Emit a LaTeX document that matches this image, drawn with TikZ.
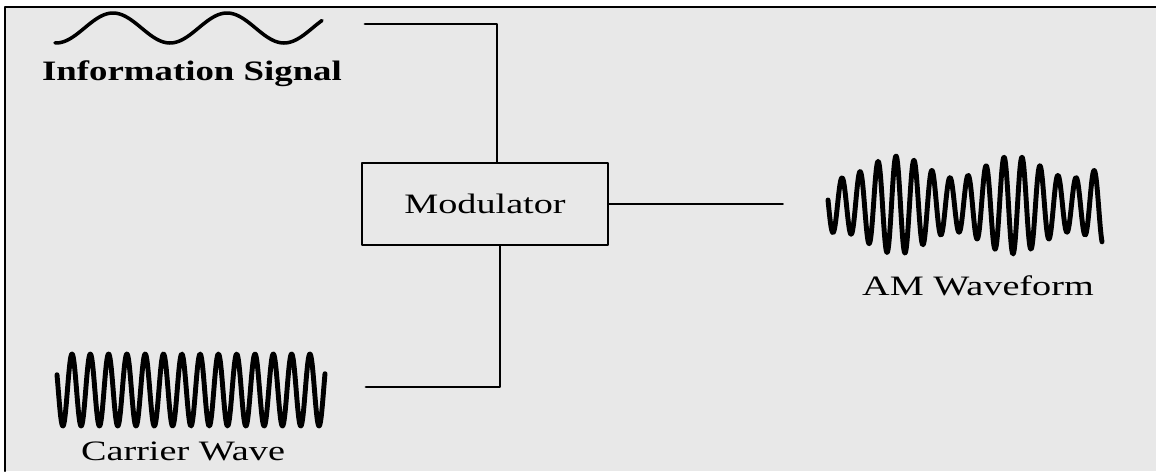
\documentclass[tikz,border=0pt]{standalone}
\usepackage{fontspec}
\setmainfont{Liberation Serif}
\usepackage{graphicx}
\usepackage{xcolor}
\usetikzlibrary{calc}
\definecolor{bggray}{RGB}{232,232,232}
\newcommand{\widetext}[1]{\scalebox{1.36}[1]{#1}}

\begin{document}
\begin{tikzpicture}[x=0.02cm, y=-0.02cm, line join=round, line cap=round,
    link/.style={line width=1.6pt},
    wave/.style={line width=2.8pt},
    label/.style={anchor=base, inner sep=0pt, font=\fontsize{16}{19}\selectfont}]
  % Page and frame (only top and left edges are drawn)
  \useasboundingbox (0,0) rectangle (1156,471);
  \fill[white] (0,0) rectangle (1156,471);
  \fill[bggray] (5,7) rectangle (1156,471);
  \draw[line width=1.2pt] (5,471) -- (5,7) -- (1156,7);

  % Modulator block
  \node[draw, line width=1.6pt, minimum width=4.92cm, minimum height=1.64cm,
        inner sep=0pt, font=\fontsize{16}{19}\selectfont] (mod) at (485,204)
        {\widetext{Modulator}};

  % Information signal (slow sine)
  \draw[line width=2pt] plot[domain=55:322, samples=120, smooth]
    (\x, {28 - 15*cos(2*pi*(\x-113)/114 r)});
  \node[label, font=\bfseries\fontsize{16}{19}\selectfont] (info) at (192,80)
    {\scalebox{1.31}[1]{Information Signal}};
  \coordinate (infoend) at (365,24);

  % Carrier wave (fast sine)
  \draw[wave] plot[domain=57:325, samples=500]
    (\x, {390 - 36*cos(2*pi*(\x-72)/18.3 r)});
  \node[label] (carrier) at (183,460) {\widetext{Carrier Wave}};
  \coordinate (carend) at (366,387);

  % AM waveform (carrier with a slow envelope)
  \draw[wave] plot[domain=828:1102, samples=600]
    (\x, {205 - (38 + 11*cos(2*pi*(\x-897)/116 r))*cos(2*pi*(\x-842)/18 r)});
  \node[label] (am) at (978,295) {\widetext{AM Waveform}};
  \coordinate (amend) at (783,204);

  % Connectors
  \draw[link] (infoend) -| ($(mod.north)+(12,0)$);
  \draw[link] ($(mod.south)+(15,0)$) |- (carend);
  \draw[line width=1pt] (mod.east) -- (amend);
\end{tikzpicture}
\end{document}
